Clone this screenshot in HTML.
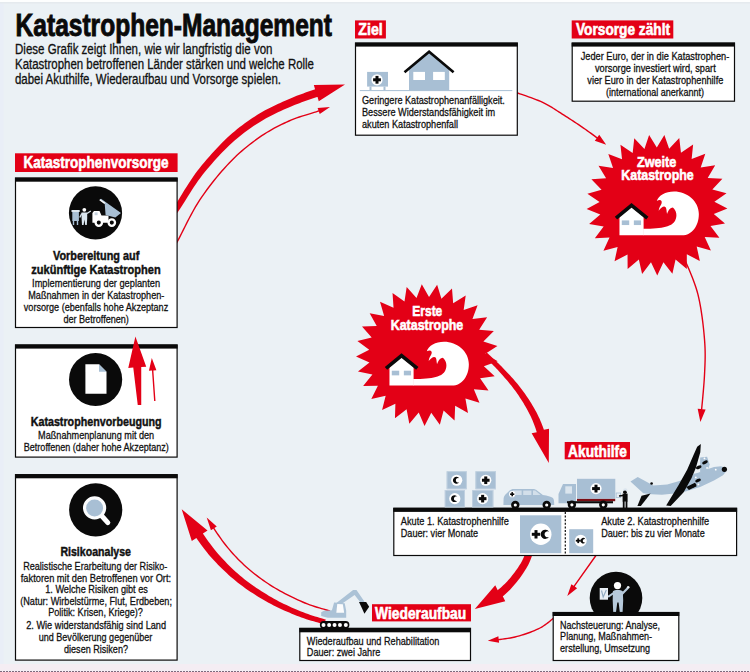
<!DOCTYPE html>
<html lang="de"><head><meta charset="utf-8"><title>Katastrophen-Management</title>
<style>html,body{margin:0;padding:0;background:#ebf1f5;}body{width:750px;height:672px;overflow:hidden;}svg{display:block;font-family:"Liberation Sans",sans-serif;}</style></head><body>
<svg width="750" height="672" viewBox="0 0 750 672">
<rect width="750" height="672" fill="#ebf1f5"/>
<rect width="3.5" height="672" fill="#e9eef7"/>
<rect width="750" height="2" fill="#fdfefe"/>
<rect y="2" width="750" height="1.5" fill="#e5eaee"/>
<rect y="664" width="750" height="8" fill="#f4edf3"/>
<line x1="0" y1="671.5" x2="750" y2="671.5" stroke="#7d6a7d" stroke-width="1" stroke-dasharray="2 1"/>
<text x="15.6" y="35.5" font-size="31" textLength="316.4" lengthAdjust="spacingAndGlyphs" fill="#0a0a0a" stroke="#0a0a0a" stroke-width="0.9" font-weight="bold">Katastrophen-Management</text>
<text x="15" y="54.3" font-size="13.8" textLength="257.5" lengthAdjust="spacingAndGlyphs" fill="#111" stroke="#111" stroke-width="0.3">Diese Grafik zeigt Ihnen, wie wir langfristig die von</text>
<text x="15" y="69.4" font-size="13.8" textLength="299" lengthAdjust="spacingAndGlyphs" fill="#111" stroke="#111" stroke-width="0.3">Katastrophen betroffenen Länder stärken und welche Rolle</text>
<text x="15" y="84.4" font-size="13.8" textLength="266" lengthAdjust="spacingAndGlyphs" fill="#111" stroke="#111" stroke-width="0.3">dabei Akuthilfe, Wiederaufbau und Vorsorge spielen.</text>
<polygon fill="#e30016" points="174.44,216.75 174.62,216.49 174.77,216.3 174.94,216.09 175.14,215.83 175.4,215.5 175.72,215.07 176.12,214.53 176.61,213.85 177.22,212.98 177.96,211.91 178.86,210.58 179.95,208.97 181.23,207.02 182.67,204.74 184.26,202.2 185.98,199.44 187.81,196.5 189.74,193.43 191.75,190.29 193.83,187.11 195.94,183.96 198.09,180.87 200.23,177.9 202.38,175.09 204.58,172.34 206.87,169.54 209.25,166.71 211.68,163.89 214.17,161.07 216.69,158.28 219.24,155.53 221.79,152.84 224.35,150.22 226.89,147.69 229.4,145.26 231.87,142.96 234.31,140.77 236.75,138.66 239.2,136.63 241.64,134.67 244.09,132.79 246.53,130.96 248.98,129.2 251.43,127.49 253.89,125.84 256.34,124.23 258.79,122.65 261.24,121.13 263.67,119.66 266.11,118.27 268.57,116.93 271.03,115.64 273.5,114.41 275.97,113.21 278.44,112.06 280.89,110.94 283.34,109.85 285.76,108.79 288.17,107.75 290.53,106.73 292.83,105.76 295.07,104.84 297.27,103.97 299.45,103.14 301.61,102.35 303.76,101.57 305.92,100.82 308.09,100.08 310.28,99.34 312.5,98.6 314.76,97.85 317.06,97.09 317.55,96.93 318.78,101.27 345,84.4 313.83,85 315.05,89.34 314.54,89.51 312.22,90.3 309.96,91.07 307.72,91.84 305.51,92.61 303.3,93.39 301.1,94.19 298.89,95.01 296.67,95.86 294.42,96.74 292.14,97.67 289.82,98.64 287.47,99.67 285.09,100.72 282.67,101.8 280.22,102.9 277.74,104.04 275.23,105.21 272.7,106.42 270.15,107.69 267.6,109 265.03,110.37 262.46,111.81 259.9,113.31 257.36,114.87 254.85,116.48 252.34,118.12 249.82,119.81 247.31,121.55 244.79,123.34 242.27,125.2 239.74,127.12 237.22,129.11 234.7,131.17 232.17,133.31 229.65,135.53 227.13,137.84 224.6,140.26 222.03,142.79 219.45,145.41 216.85,148.13 214.26,150.91 211.69,153.75 209.14,156.63 206.63,159.53 204.17,162.44 201.78,165.35 199.46,168.24 197.22,171.11 195.01,174.06 192.81,177.17 190.63,180.38 188.5,183.63 186.42,186.88 184.42,190.09 182.5,193.21 180.69,196.18 179,198.96 177.46,201.49 176.07,203.73 174.85,205.63 173.81,207.2 172.95,208.51 172.24,209.56 171.67,210.38 171.22,211.02 170.88,211.5 170.61,211.86 170.4,212.14 170.21,212.38 170.01,212.64 169.79,212.93 169.56,213.25"/>
<polygon fill="#e30016" points="172.61,251.35 172.81,251 172.99,250.7 173.17,250.41 173.37,250.09 173.61,249.7 173.9,249.21 174.28,248.57 174.75,247.74 175.34,246.7 176.07,245.39 176.95,243.78 178.02,241.83 179.27,239.47 180.69,236.69 182.26,233.57 183.96,230.16 185.78,226.53 187.7,222.75 189.71,218.87 191.78,214.96 193.9,211.08 196.05,207.3 198.22,203.68 200.39,200.28 202.6,197 204.9,193.71 207.27,190.43 209.71,187.16 212.2,183.92 214.73,180.72 217.29,177.58 219.86,174.51 222.42,171.52 224.98,168.63 227.51,165.84 230.01,163.18 232.48,160.64 234.95,158.19 237.42,155.84 239.9,153.58 242.37,151.39 244.85,149.29 247.33,147.25 249.8,145.28 252.28,143.38 254.75,141.53 257.23,139.73 259.7,137.97 262.17,136.28 264.64,134.66 267.11,133.12 269.59,131.63 272.06,130.21 274.53,128.85 277,127.54 279.47,126.27 281.93,125.06 284.39,123.88 286.84,122.74 289.28,121.64 291.76,120.58 294.32,119.57 296.93,118.61 299.57,117.7 302.21,116.83 304.81,116.01 307.36,115.22 309.82,114.48 312.16,113.77 314.36,113.1 316.39,112.47 318.22,111.86 318.9,111.63 319.75,114.04 330,107 317.6,107.9 318.45,110.31 317.78,110.54 315.97,111.13 313.95,111.76 311.76,112.43 309.42,113.14 306.95,113.88 304.4,114.67 301.78,115.5 299.12,116.37 296.46,117.3 293.82,118.27 291.23,119.29 288.72,120.36 286.26,121.47 283.79,122.62 281.32,123.8 278.84,125.02 276.36,126.29 273.87,127.62 271.37,128.99 268.88,130.43 266.38,131.92 263.89,133.49 261.39,135.12 258.9,136.83 256.41,138.59 253.92,140.4 251.43,142.26 248.94,144.18 246.45,146.16 243.95,148.21 241.46,150.33 238.96,152.53 236.47,154.82 233.97,157.19 231.48,159.65 228.99,162.22 226.48,164.89 223.94,167.69 221.37,170.6 218.79,173.6 216.21,176.69 213.64,179.84 211.1,183.06 208.6,186.31 206.15,189.6 203.76,192.9 201.44,196.21 199.21,199.52 197.03,202.95 194.84,206.6 192.68,210.4 190.55,214.3 188.47,218.22 186.46,222.11 184.53,225.9 182.71,229.53 181.01,232.94 179.44,236.06 178.03,238.82 176.78,241.17 175.72,243.11 174.84,244.71 174.12,246.01 173.53,247.05 173.07,247.86 172.7,248.49 172.41,248.98 172.17,249.36 171.98,249.68 171.79,249.97 171.6,250.29 171.39,250.65"/>
<polygon fill="#e30016" points="325.74,619.61 324.53,619.23 323.05,618.77 321.33,618.26 319.42,617.69 317.34,617.06 315.13,616.38 312.81,615.65 310.44,614.88 308.04,614.07 305.64,613.22 303.29,612.35 301.01,611.44 298.72,610.49 296.36,609.49 293.95,608.46 291.51,607.38 289.03,606.26 286.52,605.11 284,603.91 281.48,602.67 278.96,601.39 276.46,600.08 273.97,598.72 271.51,597.32 269.04,595.88 266.54,594.37 264.03,592.82 261.51,591.23 258.99,589.59 256.48,587.92 253.99,586.21 251.53,584.48 249.1,582.72 246.72,580.94 244.4,579.14 242.14,577.33 239.92,575.49 237.73,573.6 235.56,571.66 233.43,569.69 231.32,567.69 229.25,565.67 227.22,563.64 225.23,561.6 223.3,559.55 221.41,557.52 219.57,555.49 217.8,553.5 216.12,551.54 214.51,549.57 212.95,547.6 211.45,545.61 209.98,543.62 208.56,541.63 207.16,539.63 205.77,537.63 204.41,535.63 203.04,533.63 202.94,533.49 207.52,530.45 181.7,509.3 191.8,541.11 196.39,538.08 196.49,538.21 197.89,540.18 199.31,542.17 200.75,544.18 202.23,546.21 203.75,548.24 205.32,550.29 206.94,552.34 208.62,554.4 210.37,556.45 212.2,558.5 214.07,560.53 216,562.58 217.99,564.63 220.02,566.7 222.11,568.77 224.25,570.83 226.43,572.87 228.65,574.9 230.9,576.9 233.19,578.87 235.52,580.79 237.86,582.67 240.25,584.51 242.7,586.33 245.2,588.13 247.73,589.89 250.3,591.63 252.9,593.33 255.51,595 258.12,596.63 260.74,598.21 263.34,599.75 265.93,601.24 268.49,602.68 271.06,604.07 273.66,605.42 276.27,606.73 278.89,608 281.5,609.22 284.1,610.39 286.68,611.53 289.24,612.62 291.75,613.67 294.22,614.67 296.63,615.64 298.99,616.56 301.38,617.46 303.85,618.32 306.34,619.15 308.82,619.94 311.26,620.68 313.62,621.37 315.88,622.02 317.99,622.61 319.92,623.15 321.63,623.62 323.08,624.04 324.26,624.39"/>
<polygon fill="#e30016" points="330.2,610.33 329.01,609.96 327.53,609.54 325.82,609.05 323.89,608.51 321.8,607.92 319.57,607.27 317.24,606.57 314.84,605.81 312.41,605.02 309.98,604.17 307.59,603.28 305.27,602.35 302.94,601.37 300.54,600.32 298.07,599.21 295.56,598.05 293.01,596.84 290.44,595.59 287.86,594.3 285.29,592.97 282.74,591.61 280.23,590.23 277.76,588.82 275.36,587.4 273,585.95 270.65,584.46 268.31,582.94 265.99,581.38 263.69,579.8 261.41,578.18 259.16,576.54 256.94,574.87 254.76,573.18 252.62,571.46 250.52,569.73 248.46,567.97 246.45,566.2 244.49,564.41 242.57,562.61 240.69,560.78 238.84,558.93 237.03,557.05 235.24,555.14 233.47,553.2 231.72,551.22 229.99,549.21 228.26,547.16 226.55,545.06 224.79,542.83 222.97,540.39 221.1,537.79 219.23,535.1 217.37,532.38 215.56,529.67 214.43,527.97 216.77,526.43 206.7,517.5 210.92,530.28 213.26,528.74 214.39,530.45 216.21,533.16 218.08,535.9 219.96,538.6 221.84,541.21 223.68,543.68 225.45,545.94 227.18,548.05 228.92,550.12 230.67,552.14 232.43,554.13 234.21,556.09 236.01,558.01 237.84,559.91 239.7,561.78 241.6,563.62 243.54,565.44 245.52,567.24 247.54,569.03 249.62,570.8 251.73,572.55 253.89,574.28 256.09,575.98 258.33,577.66 260.59,579.32 262.88,580.94 265.2,582.54 267.54,584.11 269.89,585.64 272.26,587.14 274.64,588.6 277.06,590.03 279.54,591.45 282.07,592.85 284.64,594.21 287.22,595.55 289.81,596.85 292.4,598.11 294.96,599.32 297.49,600.48 299.97,601.6 302.39,602.65 304.73,603.65 307.09,604.59 309.51,605.49 311.96,606.34 314.42,607.15 316.83,607.9 319.18,608.61 321.41,609.26 323.51,609.86 325.43,610.4 327.15,610.88 328.61,611.31 329.8,611.67"/>
<polygon fill="#e30016" points="516.76,93.46 518.02,93.91 519.62,94.47 521.49,95.11 523.6,95.83 525.88,96.62 528.29,97.46 530.76,98.35 533.26,99.26 535.73,100.2 538.11,101.15 540.35,102.1 542.4,103.03 544.31,103.97 546.17,104.95 547.99,105.95 549.77,106.98 551.52,108.04 553.25,109.11 554.97,110.2 556.68,111.31 558.4,112.42 560.12,113.54 561.86,114.67 563.62,115.79 565.4,116.92 567.18,118.05 568.96,119.19 570.73,120.34 572.51,121.5 574.29,122.67 576.07,123.85 577.84,125.04 579.61,126.23 581.38,127.44 583.14,128.65 584.9,129.87 586.72,131.16 588.64,132.54 590.63,133.98 592.66,135.47 594.68,136.97 596.57,138.38 594.74,140.82 606.2,144.7 599.24,134.81 597.41,137.25 595.51,135.84 593.49,134.34 591.46,132.85 589.46,131.4 587.53,130.02 585.7,128.73 583.94,127.5 582.17,126.28 580.4,125.07 578.62,123.87 576.84,122.68 575.06,121.5 573.28,120.33 571.5,119.17 569.71,118.01 567.93,116.87 566.15,115.73 564.38,114.61 562.62,113.49 560.88,112.37 559.16,111.25 557.44,110.13 555.73,109.02 554,107.93 552.25,106.84 550.48,105.78 548.68,104.74 546.84,103.72 544.95,102.73 543,101.77 540.91,100.82 538.64,99.86 536.24,98.9 533.75,97.95 531.24,97.03 528.75,96.14 526.34,95.3 524.05,94.51 521.95,93.79 520.08,93.15 518.49,92.59 517.24,92.14"/>
<polygon fill="#e30016" points="683.95,259.26 684.62,260.96 685.49,263.04 686.53,265.46 687.69,268.17 688.94,271.12 690.25,274.27 691.58,277.58 692.89,280.99 694.16,284.46 695.34,287.94 696.41,291.4 697.32,294.77 698.12,298.19 698.87,301.76 699.57,305.47 700.23,309.27 700.83,313.14 701.39,317.04 701.91,320.94 702.38,324.81 702.8,328.62 703.18,332.33 703.51,335.92 703.8,339.36 704.04,342.6 704.22,345.68 704.35,348.62 704.43,351.46 704.47,354.24 704.46,357 704.42,359.76 704.34,362.57 704.24,365.46 704.11,368.47 703.97,371.62 703.8,374.96 703.59,378.63 703.31,382.67 702.97,387 702.59,391.51 702.18,396.1 701.75,400.67 701.33,405.11 700.95,408.99 697.67,408.68 700.4,422 705.63,409.44 702.34,409.13 702.72,405.24 703.15,400.8 703.57,396.23 703.98,391.63 704.36,387.11 704.7,382.78 704.99,378.72 705.2,375.04 705.36,371.69 705.51,368.53 705.64,365.52 705.74,362.62 705.82,359.79 705.86,357.01 705.87,354.24 705.83,351.43 705.75,348.57 705.62,345.6 705.44,342.51 705.2,339.24 704.91,335.8 704.57,332.2 704.19,328.47 703.77,324.65 703.3,320.76 702.78,316.85 702.22,312.93 701.61,309.05 700.95,305.22 700.24,301.49 699.49,297.88 698.68,294.43 697.75,291.01 696.68,287.51 695.48,283.99 694.2,280.49 692.88,277.06 691.54,273.74 690.23,270.58 688.97,267.62 687.81,264.91 686.78,262.5 685.92,260.43 685.25,258.74"/>
<polygon fill="#e30016" points="483.44,355.62 484.13,356.31 484.99,357.14 485.98,358.1 487.08,359.17 488.28,360.34 489.56,361.59 490.9,362.9 492.26,364.27 493.64,365.66 495.01,367.07 496.35,368.47 497.64,369.87 498.93,371.28 500.27,372.75 501.63,374.26 503.01,375.8 504.41,377.38 505.81,378.98 507.2,380.6 508.59,382.24 509.95,383.9 511.29,385.56 512.59,387.23 513.85,388.9 515.09,390.6 516.34,392.33 517.57,394.09 518.79,395.86 519.99,397.66 521.17,399.46 522.32,401.27 523.45,403.08 524.54,404.89 525.59,406.68 526.59,408.47 527.56,410.24 528.48,411.97 529.34,413.64 530.15,415.26 530.92,416.86 531.66,418.44 532.36,420.04 533.05,421.68 533.73,423.38 534.4,425.15 535.07,427.03 535.76,429.04 536.46,431.18 536.76,432.16 531.63,433.32 548.8,462.9 549.02,428.7 543.9,429.86 543.54,428.82 542.74,426.59 541.95,424.5 541.17,422.53 540.4,420.66 539.62,418.87 538.82,417.13 538.01,415.44 537.17,413.77 536.31,412.11 535.4,410.44 534.45,408.73 533.44,406.96 532.37,405.14 531.26,403.3 530.1,401.46 528.91,399.62 527.68,397.77 526.43,395.94 525.15,394.12 523.86,392.31 522.55,390.52 521.22,388.75 519.89,387.01 518.55,385.3 517.18,383.59 515.77,381.9 514.33,380.22 512.87,378.56 511.4,376.91 509.92,375.3 508.44,373.71 506.97,372.16 505.53,370.64 504.1,369.16 502.71,367.73 501.36,366.33 499.99,364.94 498.57,363.54 497.12,362.14 495.67,360.76 494.24,359.42 492.85,358.14 491.52,356.92 490.27,355.78 489.13,354.74 488.12,353.82 487.26,353.03 486.56,352.38"/>
<polygon fill="#e30016" points="527.74,546.73 527.4,547.59 527,548.65 526.57,549.84 526.1,551.16 525.59,552.58 525.03,554.07 524.43,555.61 523.78,557.18 523.1,558.75 522.38,560.28 521.62,561.76 520.82,563.17 519.95,564.61 518.98,566.12 517.94,567.67 516.85,569.25 515.71,570.85 514.53,572.45 513.31,574.04 512.08,575.61 510.83,577.14 509.59,578.63 508.35,580.05 507.13,581.39 505.92,582.67 504.7,583.91 503.47,585.11 502.24,586.27 500.99,587.4 499.72,588.5 498.43,589.57 497.72,590.15 495.25,585.16 474.8,609 505.25,601.32 502.79,596.33 503.55,595.69 504.93,594.5 506.29,593.28 507.63,592.03 508.96,590.73 510.27,589.4 511.58,588.03 512.87,586.61 514.17,585.12 515.47,583.57 516.78,581.96 518.07,580.31 519.35,578.63 520.6,576.92 521.82,575.21 523,573.49 524.13,571.78 525.21,570.1 526.22,568.45 527.18,566.83 528.08,565.16 528.93,563.42 529.71,561.67 530.44,559.93 531.11,558.22 531.72,556.56 532.28,554.98 532.79,553.51 533.24,552.17 533.63,551 533.97,550.04 534.26,549.27"/>
<polygon fill="#e30016" points="596.43,553.6 573.66,585.8 571.37,584.18 567.3,596 577.09,588.22 574.8,586.61 597.57,554.4"/>
<polygon fill="#e30016" points="555.57,615.45 554.81,616.05 553.91,616.81 552.88,617.7 551.73,618.69 550.47,619.77 549.12,620.9 547.68,622.06 546.17,623.22 544.61,624.36 542.99,625.45 541.35,626.46 539.68,627.38 537.94,628.24 536.09,629.1 534.16,629.94 532.15,630.77 530.08,631.57 527.96,632.35 525.8,633.11 523.62,633.83 521.41,634.52 519.21,635.16 517.01,635.76 514.84,636.32 512.58,636.83 510.16,637.29 507.61,637.71 504.99,638.1 502.36,638.45 499.76,638.77 498.65,638.89 498.37,636.36 487.8,640.8 499.09,642.82 498.81,640.28 499.92,640.16 502.53,639.84 505.19,639.49 507.83,639.1 510.4,638.67 512.87,638.2 515.16,637.68 517.37,637.12 519.59,636.51 521.82,635.86 524.04,635.16 526.25,634.43 528.44,633.67 530.58,632.88 532.68,632.06 534.71,631.23 536.67,630.37 538.54,629.5 540.32,628.62 542.05,627.67 543.75,626.62 545.41,625.5 547.01,624.34 548.55,623.15 550.01,621.98 551.38,620.84 552.64,619.75 553.79,618.76 554.82,617.87 555.7,617.13 556.43,616.55"/>
<polygon fill="#e30016" points="437.13,284.73 441.43,298.82 452,288.55 453.17,303.24 465.7,295.47 463.68,310.08 477.59,305.18 472.48,319.01 487.12,317.22 479.16,329.63 493.83,331.03 483.39,341.44 497.42,345.96 484.99,353.88 497.72,361.31 483.87,366.37 494.71,376.36 480.1,378.33 488.53,390.42 473.84,389.2 479.48,402.82 465.4,398.47 467.98,412.98 455.16,405.71 454.55,420.44 443.6,410.57 439.84,424.83 431.26,412.84 424.53,425.96 418.73,412.41 409.33,423.77 406.58,409.29 394.96,418.36 395.39,403.63 382.09,409.99 385.67,395.7 371.32,399.05 377.89,385.86 363.15,386.06 372.41,374.58 357.97,371.6 369.47,362.39 356.01,356.38 369.23,349.85 357.38,341.08 371.69,337.55 362,326.44 376.73,326.07 369.66,313.14 384.13,315.94 380,301.79 393.53,307.63 392.53,292.93 404.49,301.55 406.68,286.97 416.51,297.96 421.78,284.19 429.02,297.04"/>
<polygon fill="#e30016" points="664.37,134.89 669.16,148.8 679.27,138.11 680.96,152.73 693.13,144.46 691.63,159.1 705.3,153.64 700.69,167.62 715.21,165.23 707.7,177.88 722.4,178.67 712.35,189.42 726.53,193.34 714.4,201.68 727.41,208.56 713.78,214.1 725,223.62 710.49,226.09 719.41,237.8 704.71,237.1 710.9,250.45 696.69,246.6 699.87,260.97 686.82,254.16 686.83,268.88 675.56,259.42 672.4,273.8 663.42,262.14 657.25,275.5 650.99,262.19 642.09,273.91 638.84,259.56 627.63,269.09 627.53,254.38 614.54,261.28 617.61,246.89 603.43,250.83 609.52,237.44 594.83,238.25 603.66,226.48 589.14,224.11 600.29,214.51 586.62,209.07 599.57,202.09 587.39,193.85 601.54,189.82 591.41,179.14 606.1,178.25 598.51,165.65 613.04,167.93 608.33,153.99 622.04,159.35 620.44,144.72 632.67,152.9 634.25,138.27 644.44,148.89 649.12,134.94 656.79,147.5"/>
<text x="412.3" y="315.7" font-size="15.5" textLength="30" lengthAdjust="spacingAndGlyphs" fill="#fff" stroke="#fff" stroke-width="0.6" font-weight="bold">Erste</text>
<text x="390.7" y="329.5" font-size="15.5" textLength="72.6" lengthAdjust="spacingAndGlyphs" fill="#fff" stroke="#fff" stroke-width="0.6" font-weight="bold">Katastrophe</text>
<text x="636.9" y="166.5" font-size="15.5" textLength="39.4" lengthAdjust="spacingAndGlyphs" fill="#fff" stroke="#fff" stroke-width="0.6" font-weight="bold">Zweite</text>
<text x="621.3" y="180.3" font-size="15.5" textLength="72.4" lengthAdjust="spacingAndGlyphs" fill="#fff" stroke="#fff" stroke-width="0.6" font-weight="bold">Katastrophe</text>
<path fill="#fff" d="M 413.14 385.56 L 452.14 385.56 C 461.88 385.56 468.85 376.28 468.85 364.21 C 468.85 351.44 457.24 341.69 444.01 341.69 C 435.42 341.69 428.46 345.64 426.83 351.21 C 430.08 349.35 432.64 350.74 431.48 353.99 C 430.32 356.32 428.92 358.17 428.69 360.96 C 431.01 357.71 434.03 355.85 435.65 357.48 C 436.82 359.57 436.35 361.42 437.05 364.21 C 438.21 360.49 440.53 357.71 442.85 357.71 C 446.56 360.96 447.49 366.06 445.17 370.71 C 442.39 376.28 433.57 379.06 413.14 379.06 Z"/>
<path fill="#fff" d="M 389.46 385.56 L 389.46 366.99 L 401.53 357.24 L 413.6 366.99 L 413.6 385.56 Z"/>
<rect x="391.78" y="370.71" width="7.43" height="4.64" fill="#a8bfd4"/>
<rect x="403.85" y="370.71" width="7.2" height="4.64" fill="#a8bfd4"/>
<path fill="none" stroke="#0a0a0a" stroke-width="3.7" stroke-linejoin="miter" d="M 385.98 368.39 L 401.53 355.62 L 417.32 368.39"/>
<path fill="#fff" d="M 643.14 235.26 L 682.14 235.26 C 691.88 235.26 698.85 225.98 698.85 213.91 C 698.85 201.14 687.24 191.39 674.01 191.39 C 665.42 191.39 658.46 195.34 656.83 200.91 C 660.08 199.05 662.64 200.44 661.48 203.69 C 660.32 206.02 658.92 207.87 658.69 210.66 C 661.01 207.41 664.03 205.55 665.65 207.18 C 666.82 209.27 666.35 211.12 667.05 213.91 C 668.21 210.19 670.53 207.41 672.85 207.41 C 676.56 210.66 677.49 215.76 675.17 220.41 C 672.39 225.98 663.57 228.76 643.14 228.76 Z"/>
<path fill="#fff" d="M 619.46 235.26 L 619.46 216.69 L 631.53 206.94 L 643.6 216.69 L 643.6 235.26 Z"/>
<rect x="621.78" y="220.41" width="7.43" height="4.64" fill="#a8bfd4"/>
<rect x="633.85" y="220.41" width="7.2" height="4.64" fill="#a8bfd4"/>
<path fill="none" stroke="#0a0a0a" stroke-width="3.7" stroke-linejoin="miter" d="M 615.98 218.09 L 631.53 205.32 L 647.32 218.09"/>
<rect x="15" y="153.3" width="162.6" height="18.7" fill="#e30016"/>
<text x="23.5" y="168.2" font-size="16.5" textLength="145" lengthAdjust="spacingAndGlyphs" fill="#fff" stroke="#fff" stroke-width="0.6" font-weight="bold">Katastrophenvorsorge</text>
<rect x="15.5" y="178.1" width="161.6" height="149.4" fill="#fff" stroke="#0a0a0a" stroke-width="1.2"/>
<rect x="15" y="177.6" width="162.6" height="4.1" fill="#0a0a0a"/>
<rect x="15.5" y="345" width="161.6" height="112.1" fill="#fff" stroke="#0a0a0a" stroke-width="1.2"/>
<rect x="15" y="344.5" width="162.6" height="4.1" fill="#0a0a0a"/>
<rect x="15.5" y="474.7" width="161.6" height="185.4" fill="#fff" stroke="#0a0a0a" stroke-width="1.2"/>
<rect x="15" y="474.2" width="162.6" height="4.1" fill="#0a0a0a"/>
<text x="53" y="259.7" font-size="13.3" textLength="86.3" lengthAdjust="spacingAndGlyphs" fill="#111" stroke="#111" stroke-width="0.45" font-weight="bold">Vorbereitung auf</text>
<text x="31.3" y="273.8" font-size="13.3" textLength="129.4" lengthAdjust="spacingAndGlyphs" fill="#111" stroke="#111" stroke-width="0.45" font-weight="bold">zukünftige Katastrophen</text>
<text x="32.1" y="286.9" font-size="11.4" textLength="128" lengthAdjust="spacingAndGlyphs" fill="#111" stroke="#111" stroke-width="0.3">Implementierung der geplanten</text>
<text x="28.3" y="299" font-size="11.4" textLength="136" lengthAdjust="spacingAndGlyphs" fill="#111" stroke="#111" stroke-width="0.3">Maßnahmen in der Katastrophen-</text>
<text x="23.8" y="310.7" font-size="11.4" textLength="144.4" lengthAdjust="spacingAndGlyphs" fill="#111" stroke="#111" stroke-width="0.3">vorsorge (ebenfalls hohe Akzeptanz</text>
<text x="63.4" y="322.6" font-size="11.4" textLength="65.5" lengthAdjust="spacingAndGlyphs" fill="#111" stroke="#111" stroke-width="0.3">der Betroffenen)</text>
<text x="30.7" y="426.3" font-size="13.3" textLength="130.9" lengthAdjust="spacingAndGlyphs" fill="#111" stroke="#111" stroke-width="0.45" font-weight="bold">Katastrophenvorbeugung</text>
<text x="38.1" y="439" font-size="11.4" textLength="116.1" lengthAdjust="spacingAndGlyphs" fill="#111" stroke="#111" stroke-width="0.3">Maßnahmenplanung mit den</text>
<text x="23.8" y="451.3" font-size="11.4" textLength="145" lengthAdjust="spacingAndGlyphs" fill="#111" stroke="#111" stroke-width="0.3">Betroffenen (daher hohe Akzeptanz)</text>
<text x="60.4" y="555.8" font-size="13.3" textLength="70.6" lengthAdjust="spacingAndGlyphs" fill="#111" stroke="#111" stroke-width="0.45" font-weight="bold">Risikoanalyse</text>
<text x="23.2" y="570" font-size="11.4" textLength="144.1" lengthAdjust="spacingAndGlyphs" fill="#111" stroke="#111" stroke-width="0.3">Realistische Erarbeitung der Risiko-</text>
<text x="20.8" y="582" font-size="11.4" textLength="150.3" lengthAdjust="spacingAndGlyphs" fill="#111" stroke="#111" stroke-width="0.3">faktoren mit den Betroffenen vor Ort:</text>
<text x="45.2" y="593" font-size="11.4" textLength="102.7" lengthAdjust="spacingAndGlyphs" fill="#111" stroke="#111" stroke-width="0.3">1. Welche Risiken gibt es</text>
<text x="20.2" y="604.9" font-size="11.4" textLength="151.8" lengthAdjust="spacingAndGlyphs" fill="#111" stroke="#111" stroke-width="0.3">(Natur: Wirbelstürme, Flut, Erdbeben;</text>
<text x="48.2" y="616.2" font-size="11.4" textLength="94.7" lengthAdjust="spacingAndGlyphs" fill="#111" stroke="#111" stroke-width="0.3">Politik: Krisen, Kriege)?</text>
<text x="26.2" y="628.7" font-size="11.4" textLength="139.9" lengthAdjust="spacingAndGlyphs" fill="#111" stroke="#111" stroke-width="0.3">2. Wie widerstandsfähig sind Land</text>
<text x="38.7" y="640.6" font-size="11.4" textLength="113.7" lengthAdjust="spacingAndGlyphs" fill="#111" stroke="#111" stroke-width="0.3">und Bevölkerung gegenüber</text>
<text x="64" y="652.5" font-size="11.4" textLength="64" lengthAdjust="spacingAndGlyphs" fill="#111" stroke="#111" stroke-width="0.3">diesen Risiken?</text>
<rect x="355" y="20.4" width="30.9" height="18.1" fill="#e30016"/>
<text x="358.3" y="35.3" font-size="16.5" textLength="24.4" lengthAdjust="spacingAndGlyphs" fill="#fff" stroke="#fff" stroke-width="0.6" font-weight="bold">Ziel</text>
<rect x="355.5" y="43.1" width="161.8" height="92.1" fill="#fff" stroke="#0a0a0a" stroke-width="1.2"/>
<rect x="355" y="42.6" width="162.8" height="4" fill="#0a0a0a"/>
<text x="362" y="104.2" font-size="11.6" textLength="142.8" lengthAdjust="spacingAndGlyphs" fill="#111" stroke="#111" stroke-width="0.3">Geringere Katastrophenanfälligkeit.</text>
<text x="362" y="116" font-size="11.6" textLength="133.2" lengthAdjust="spacingAndGlyphs" fill="#111" stroke="#111" stroke-width="0.3">Bessere Widerstandsfähigkeit im</text>
<text x="362" y="128" font-size="11.6" textLength="96" lengthAdjust="spacingAndGlyphs" fill="#111" stroke="#111" stroke-width="0.3">akuten Katastrophenfall</text>
<rect x="571.7" y="20.4" width="101.6" height="18.1" fill="#e30016"/>
<text x="576" y="35.3" font-size="16.5" textLength="94" lengthAdjust="spacingAndGlyphs" fill="#fff" stroke="#fff" stroke-width="0.6" font-weight="bold">Vorsorge zählt</text>
<rect x="572.2" y="43.1" width="162.3" height="58.1" fill="#fff" stroke="#0a0a0a" stroke-width="1.2"/>
<rect x="571.7" y="42.6" width="163.3" height="4" fill="#0a0a0a"/>
<text x="580.7" y="60" font-size="11.4" textLength="148.6" lengthAdjust="spacingAndGlyphs" fill="#111" stroke="#111" stroke-width="0.3">Jeder Euro, der in die Katastrophen-</text>
<text x="595" y="72.3" font-size="11.4" textLength="120.7" lengthAdjust="spacingAndGlyphs" fill="#111" stroke="#111" stroke-width="0.3">vorsorge investiert wird, spart</text>
<text x="587.3" y="84.3" font-size="11.4" textLength="136" lengthAdjust="spacingAndGlyphs" fill="#111" stroke="#111" stroke-width="0.3">vier Euro in der Katastrophenhilfe</text>
<text x="606" y="95.5" font-size="11.4" textLength="98" lengthAdjust="spacingAndGlyphs" fill="#111" stroke="#111" stroke-width="0.3">(international anerkannt)</text>
<rect x="564.7" y="442" width="65.3" height="17.3" fill="#e30016"/>
<text x="568.1" y="456.7" font-size="16.5" textLength="58.7" lengthAdjust="spacingAndGlyphs" fill="#fff" stroke="#fff" stroke-width="0.6" font-weight="bold">Akuthilfe</text>
<rect x="393.8" y="508.3" width="342.8" height="47.2" fill="#fff" stroke="#0a0a0a" stroke-width="1.2"/>
<rect x="393.3" y="507.8" width="343.8" height="4.1" fill="#0a0a0a"/>
<text x="400.8" y="525.2" font-size="11.6" textLength="108" lengthAdjust="spacingAndGlyphs" fill="#111" stroke="#111" stroke-width="0.3">Akute 1. Katastrophenhilfe</text>
<text x="400.8" y="536.7" font-size="11.6" textLength="77.3" lengthAdjust="spacingAndGlyphs" fill="#111" stroke="#111" stroke-width="0.3">Dauer: vier Monate</text>
<text x="601.2" y="525.2" font-size="11.6" textLength="108" lengthAdjust="spacingAndGlyphs" fill="#111" stroke="#111" stroke-width="0.3">Akute 2. Katastrophenhilfe</text>
<text x="601.2" y="536.7" font-size="11.6" textLength="103.5" lengthAdjust="spacingAndGlyphs" fill="#111" stroke="#111" stroke-width="0.3">Dauer: bis zu vier Monate</text>
<rect x="372" y="604.2" width="99" height="17.2" fill="#e30016"/>
<text x="375.1" y="619.1" font-size="16.5" textLength="91.1" lengthAdjust="spacingAndGlyphs" fill="#fff" stroke="#fff" stroke-width="0.6" font-weight="bold">Wiederaufbau</text>
<rect x="299.8" y="628.4" width="170.7" height="32.1" fill="#fff" stroke="#0a0a0a" stroke-width="1.2"/>
<rect x="299.3" y="627.9" width="171.7" height="4.4" fill="#0a0a0a"/>
<text x="306.8" y="644.5" font-size="11.6" textLength="132.5" lengthAdjust="spacingAndGlyphs" fill="#111" stroke="#111" stroke-width="0.3">Wiederaufbau und Rehabilitation</text>
<text x="306.8" y="655.7" font-size="11.6" textLength="73.5" lengthAdjust="spacingAndGlyphs" fill="#111" stroke="#111" stroke-width="0.3">Dauer: zwei Jahre</text>
<circle cx="95.5" cy="212.9" r="26.6" fill="#0a0a0a"/>
<circle cx="95.6" cy="379.5" r="26.6" fill="#0a0a0a"/>
<circle cx="95.7" cy="509.9" r="26.6" fill="#0a0a0a"/>
<polygon fill="#fff" points="85.4,364.2 99,364.2 106.5,371.8 106.5,393.8 85.4,393.8"/>
<polygon fill="#a8bfd4" points="99,364.2 106.5,371.8 99,371.8"/>
<line x1="100" y1="514" x2="107.8" y2="522.6" stroke="#fff" stroke-width="5" stroke-linecap="round"/>
<circle cx="94.6" cy="507.9" r="10.05" fill="#a8bfd4" stroke="#fbfcfd" stroke-width="3.1"/>
<rect x="72.3" y="210.5" width="6.6" height="10.5" fill="#a8bfd4"/>
<rect x="72.8" y="221" width="1.4" height="4" fill="#a8bfd4"/>
<rect x="76.8" y="221" width="1.4" height="4" fill="#a8bfd4"/>
<rect x="71.5" y="210" width="8.2" height="2" fill="#dfe8f0"/>
<circle cx="84.3" cy="209.8" r="1.9" fill="#fff"/>
<polygon fill="#dbe6ef" points="81.5,212.5 87.2,212.5 87.2,218.5 86.8,225 85.2,225 84.4,219.5 83.6,225 82,225 81.6,218.5"/>
<line x1="81.8" y1="213.5" x2="79.8" y2="217.5" stroke="#dbe6ef" stroke-width="1.3"/>
<line x1="87" y1="213.5" x2="90.8" y2="211" stroke="#dbe6ef" stroke-width="1.3"/>
<polygon fill="#fff" points="92.4,222.8 92.4,213 94,211 99.5,211 101.5,215.5 108.5,215.5 108.5,222.8"/>
<rect x="94.6" y="212.4" width="3" height="2.8" fill="#c5d3df"/>
<polygon fill="#a8bfd4" points="99.7,199.8 101,198.8 121,213 115.3,217.6 105.6,215 104.7,203.8"/>
<line x1="99.7" y1="199.8" x2="104.8" y2="203.4" stroke="#fff" stroke-width="1.4"/>
<circle cx="98.8" cy="222.6" r="3.2" fill="#0a0a0a" stroke="#fff" stroke-width="2.3"/>
<circle cx="111.8" cy="222.6" r="3.2" fill="#0a0a0a" stroke="#fff" stroke-width="2.3"/>
<polygon fill="#a8bfd4" points="409,90.4 409,68.5 429.1,52.5 449.2,68.5 449.2,90.4"/>
<rect x="413.3" y="71.9" width="11.7" height="8.1" fill="#fff"/>
<rect x="433.1" y="71.9" width="11.7" height="8.1" fill="#fff"/>
<path fill="none" stroke="#0a0a0a" stroke-width="2.6" d="M 404.5 72.3 L 429.1 51.8 L 453.6 72.3"/>
<rect x="367.1" y="71.9" width="20.9" height="14.7" fill="#a8bfd4"/>
<rect x="369.5" y="86.6" width="2" height="3.8" fill="#a8bfd4"/>
<rect x="383.5" y="86.6" width="2" height="3.8" fill="#a8bfd4"/>
<circle cx="377" cy="79.8" r="5.6" fill="#fff"/>
<rect x="373.1" y="78.3" width="7.8" height="3" fill="#0a0a0a"/>
<rect x="375.5" y="75.9" width="3" height="7.8" fill="#0a0a0a"/>
<line x1="359.8" y1="90.6" x2="512.3" y2="90.6" stroke="#a8bfd4" stroke-width="1"/>
<rect x="446.7" y="471.3" width="20" height="17.9" fill="#a8bfd4"/>
<rect x="447.1" y="471.7" width="19.2" height="17.1" fill="none" stroke="#c4d3e1" stroke-width="0.8"/>
<circle cx="456.7" cy="480.25" r="5.6" fill="#fff"/>
<path fill="#0a0a0a" d="M 459.23 478.24 A 3.47 3.47 0 1 0 459.23 482.26 A 2.29 2.29 0 1 1 459.23 478.24 Z"/>
<rect x="475.5" y="471.3" width="20.5" height="17.9" fill="#a8bfd4"/>
<rect x="475.9" y="471.7" width="19.7" height="17.1" fill="none" stroke="#c4d3e1" stroke-width="0.8"/>
<circle cx="485.75" cy="480.25" r="5.6" fill="#fff"/>
<rect x="481.94" y="478.74" width="7.62" height="3.02" fill="#0a0a0a"/>
<rect x="484.24" y="476.44" width="3.02" height="7.62" fill="#0a0a0a"/>
<rect x="444.8" y="490" width="20" height="17.3" fill="#a8bfd4"/>
<rect x="445.2" y="490.4" width="19.2" height="16.5" fill="none" stroke="#c4d3e1" stroke-width="0.8"/>
<circle cx="454.8" cy="498.65" r="5.6" fill="#fff"/>
<path fill="#0a0a0a" d="M 457.33 496.64 A 3.47 3.47 0 1 0 457.33 500.66 A 2.29 2.29 0 1 1 457.33 496.64 Z"/>
<rect x="472" y="490" width="21.3" height="17.3" fill="#a8bfd4"/>
<rect x="472.4" y="490.4" width="20.5" height="16.5" fill="none" stroke="#c4d3e1" stroke-width="0.8"/>
<circle cx="482.65" cy="498.65" r="5.6" fill="#fff"/>
<rect x="478.84" y="497.14" width="7.62" height="3.02" fill="#0a0a0a"/>
<rect x="481.14" y="494.84" width="3.02" height="7.62" fill="#0a0a0a"/>
<rect x="520" y="515.3" width="41.3" height="37.9" fill="#a8bfd4"/>
<circle cx="540.8" cy="534.3" r="10.7" fill="#fff"/>
<rect x="531.8" y="532.8" width="8.4" height="3" fill="#0a0a0a"/>
<rect x="534.5" y="530.1" width="3" height="8.4" fill="#0a0a0a"/>
<path fill="#0a0a0a" d="M 549.05 531.63 A 4.6 4.6 0 1 0 549.05 536.97 A 3.04 3.04 0 1 1 549.05 531.63 Z"/>
<line x1="565.3" y1="512" x2="565.3" y2="555.5" stroke="#0a0a0a" stroke-width="1.2" stroke-dasharray="2 1.6"/>
<rect x="569.2" y="529.2" width="24" height="24" fill="#a8bfd4"/>
<circle cx="580.7" cy="540.7" r="6" fill="#fff"/>
<rect x="575.8" y="539.8" width="4.8" height="1.8" fill="#0a0a0a"/>
<rect x="577.3" y="538.3" width="1.8" height="4.8" fill="#0a0a0a"/>
<path fill="#0a0a0a" d="M 585.4 539.13 A 2.7 2.7 0 1 0 585.4 542.27 A 1.78 1.78 0 1 1 585.4 539.13 Z"/>
<path fill="#a8bfd4" d="M 503.4 505 L 503.6 498.5 C 503.8 496.5 505 495 506.5 493.6 L 509.6 490.6 C 510.8 489.4 512 488.9 513.6 488.9 L 533 488.9 C 534.6 488.9 535.8 489.4 537 490.4 L 542.9 494.9 C 547.5 495.6 551 496.6 552.6 497.8 C 554 499 554.2 501 554.2 505 Z"/>
<polygon fill="#d3dfea" points="513.2,490.6 521.6,490.6 521.6,495 509.4,495"/>
<polygon fill="#d3dfea" points="523.2,490.6 531.4,490.6 531.4,495 523.2,495"/>
<polygon fill="#d3dfea" points="533,490.6 535.2,490.6 540.6,495 533,495"/>
<circle cx="512.2" cy="494.2" r="3.1" fill="#fff"/>
<rect x="510.1" y="493.4" width="4.2" height="1.6" fill="#0a0a0a"/>
<rect x="511.4" y="492.1" width="1.6" height="4.2" fill="#0a0a0a"/>
<circle cx="515.3" cy="505" r="2.9" fill="#fff" stroke="#0a0a0a" stroke-width="2.6"/>
<circle cx="546.7" cy="505" r="2.9" fill="#fff" stroke="#0a0a0a" stroke-width="2.6"/>
<polygon fill="#a8bfd4" points="558.5,503.3 558.5,494 563,484 576,484 576,503.3"/>
<rect x="565.3" y="486.3" width="6.7" height="7.3" fill="#dbe5ee"/>
<rect x="577" y="478.8" width="38.3" height="20" fill="#a8bfd4"/>
<circle cx="596" cy="488.6" r="5.6" fill="#fff"/>
<rect x="592.1" y="487.1" width="7.8" height="3" fill="#0a0a0a"/>
<rect x="594.5" y="484.7" width="3" height="7.8" fill="#0a0a0a"/>
<rect x="577" y="498.9" width="38.2" height="2.3" fill="#7a0d14"/>
<rect x="567" y="501.2" width="46" height="2.1" fill="#0a0a0a"/>
<circle cx="571.9" cy="504.8" r="2.9" fill="#fff" stroke="#0a0a0a" stroke-width="2.6"/>
<circle cx="603.3" cy="504.8" r="2.9" fill="#fff" stroke="#0a0a0a" stroke-width="2.6"/>
<circle cx="625" cy="491.6" r="1.9" fill="#0a0a0a"/>
<rect x="622.6" y="493.6" width="5" height="7.9" fill="#0a0a0a"/>
<rect x="622.8" y="501" width="1.8" height="7" fill="#0a0a0a"/>
<rect x="625.6" y="501" width="1.8" height="7" fill="#0a0a0a"/>
<rect x="616.2" y="493" width="4.4" height="4.6" fill="#e8eef4" stroke="#a8bfd4" stroke-width="0.8"/>
<line x1="623" y1="495.5" x2="619" y2="496" stroke="#0a0a0a" stroke-width="1.3"/>
<circle cx="625.3" cy="490.3" r="2.1" fill="#dbe5ee"/>
<circle cx="625" cy="492.2" r="1.7" fill="#0a0a0a"/>
<path fill="#a8bfd4" d="M 630.45 481.46 L 637.73 477.12 L 653.34 485.62 L 667.2 484.4 L 679.34 481.11 L 691.47 476.6 L 703.6 470.53 L 714 467.07 L 720.94 466.2 L 725.79 467.93 L 726.48 471.05 L 723.02 475.21 L 714 480.42 L 700.14 487 L 686.27 491.16 L 679.34 493.07 L 662 494.63 L 651.6 494.28 L 643.28 493.24 Z"/>
<polygon fill="#a8bfd4" points="700.14,457.53 707.07,456.67 709.67,464.47 707.07,472.27 700.14,472.27"/>
<polygon fill="#a8bfd4" points="693.2,474 700.14,472.27 701.87,480.07 699.27,487 691.47,487"/>
<ellipse cx="704.99" cy="462.39" rx="3" ry="1.6" fill="#0a0a0a" transform="rotate(-25 704.99 462.39)"/>
<ellipse cx="698.75" cy="467.24" rx="3" ry="1.6" fill="#0a0a0a" transform="rotate(-25 698.75 467.24)"/>
<ellipse cx="698.06" cy="480.42" rx="3" ry="1.6" fill="#0a0a0a" transform="rotate(-25 698.06 480.42)"/>
<ellipse cx="693.55" cy="485.62" rx="3" ry="1.6" fill="#0a0a0a" transform="rotate(-25 693.55 485.62)"/>
<circle cx="704.47" cy="458.4" r="0.9" fill="#fff"/>
<circle cx="707.07" cy="467.93" r="0.9" fill="#fff"/>
<circle cx="695.8" cy="477.47" r="0.9" fill="#fff"/>
<circle cx="698.4" cy="484.4" r="0.9" fill="#fff"/>
<circle cx="715.74" cy="469.67" r="0.9" fill="#fff"/>
<circle cx="724.4" cy="469.32" r="2.6" fill="#0a0a0a"/>
<polygon fill="#0a0a0a" points="697.19,446.79 700.83,444.01 700.31,452.33 695.8,467.93 691.47,478.34 683.67,492.2 670.67,506.07 666.16,505.38 678.47,485.27 687.14,469.67 693.2,455.8"/>
<polygon fill="#0a0a0a" points="686.27,487 694.94,482.67 696.67,486.14 688.87,490.12"/>
<polygon fill="#0a0a0a" points="637.39,506.07 641.55,495.67 650.56,493.42 640.85,506.07"/>
<circle cx="651.6" cy="483.54" r="1.3" fill="#0a0a0a"/>
<polygon fill="#abc2d6" points="334.45,604.45 338,601.65 353.12,590.08 356.48,590.08 364.6,601.65 360.87,602.96 354.61,594.93 340.8,604.45"/>
<polygon fill="#abc2d6" points="321.2,612.2 324,610.8 331.93,610.33 334.08,602.4 344.72,603.15 346.21,610.8 346.21,617.8 327.73,617.8 321.2,615.93"/>
<polygon fill="#fbfcfd" points="337.25,604.08 342.85,604.27 344.16,612.67 336.32,612.67"/>
<polygon fill="#0a0a0a" points="359,602.12 366.19,602.12 369.17,606.69 364.41,613.79 362.08,608.47"/>
<rect x="319.89" y="621.07" width="29.49" height="7.65" rx="3.7" fill="#0a0a0a"/>
<circle cx="323.53" cy="624.99" r="2" fill="#fff"/>
<circle cx="329.13" cy="624.99" r="2" fill="#fff"/>
<circle cx="334.55" cy="624.99" r="2" fill="#fff"/>
<circle cx="339.96" cy="624.99" r="2" fill="#fff"/>
<circle cx="345.84" cy="624.99" r="2" fill="#fff"/>
<circle cx="616" cy="598.1" r="26.3" fill="#0a0a0a"/>
<circle cx="617.5" cy="585.6" r="3.6" fill="#fff"/>
<path fill="#b7cadb" d="M 612.9 591.2 C 614.5 589.6 620.8 589.6 622.8 591.2 L 623.2 600.5 L 622.6 612 L 619.8 612 L 618.6 602.5 L 617.3 602.5 L 616 612 L 613.2 612 L 612.7 600.5 Z"/>
<line x1="622" y1="594" x2="627.6" y2="588.2" stroke="#b7cadb" stroke-width="2.2" stroke-linecap="round"/>
<line x1="613.6" y1="593" x2="608.8" y2="596.4" stroke="#b7cadb" stroke-width="2" stroke-linecap="round"/>
<circle cx="628.2" cy="587.3" r="1.3" fill="#e9eff5"/>
<rect x="599.7" y="588" width="8.3" height="11.7" fill="#e9eff5"/>
<path fill="none" stroke="#8fa9c0" stroke-width="1.1" d="M 601.5 590.5 L 603.2 597 L 606.3 590"/>
<polygon fill="#e30016" points="141.25,404.9 141.24,367.11 146.23,366.81 135.4,336.4 128.27,367.88 133.26,367.58 137.75,405.1"/>
<polygon fill="#e30016" points="155.5,400.95 153.37,370.42 156.41,370.21 151.8,358 148.93,370.73 151.97,370.52 154.1,401.05"/>
<rect x="553.2" y="612.5" width="125.6" height="48" fill="#fff" stroke="#0a0a0a" stroke-width="1.2"/>
<rect x="552.7" y="612" width="126.6" height="4" fill="#0a0a0a"/>
<text x="560.1" y="628.5" font-size="11.6" textLength="100" lengthAdjust="spacingAndGlyphs" fill="#111" stroke="#111" stroke-width="0.3">Nachsteuerung: Analyse,</text>
<text x="560.1" y="640" font-size="11.6" textLength="92" lengthAdjust="spacingAndGlyphs" fill="#111" stroke="#111" stroke-width="0.3">Planung, Maßnahmen-</text>
<text x="560.1" y="652" font-size="11.6" textLength="89.9" lengthAdjust="spacingAndGlyphs" fill="#111" stroke="#111" stroke-width="0.3">erstellung, Umsetzung</text>
</svg></body></html>
